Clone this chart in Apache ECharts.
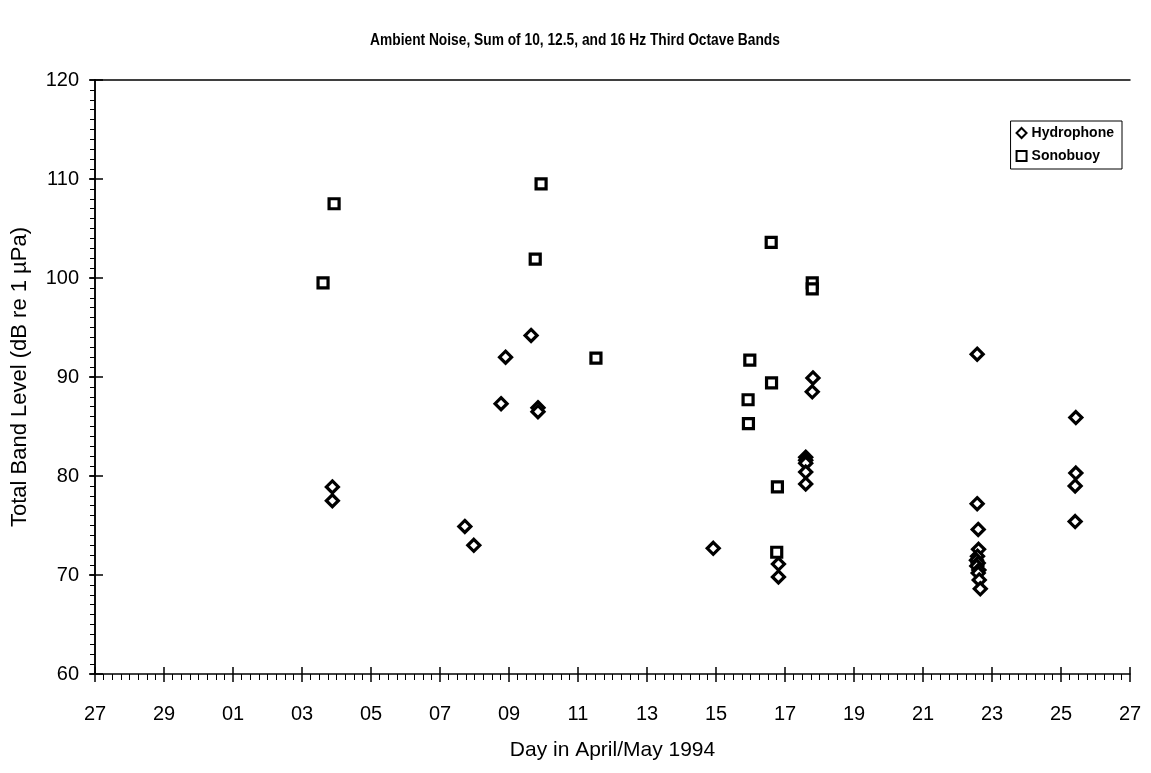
<!DOCTYPE html>
<html>
<head>
<meta charset="utf-8">
<script src="https://cdn.jsdelivr.net/npm/echarts@6/dist/echarts.min.js"></script>
<style>
  html, body { margin: 0; padding: 0; background: #fff; }
  #chart { width: 1151px; height: 773px; }
</style>
</head>
<body>
<div id="chart"></div>
<script>
// Day positions are counted in days from 27 April 1994, 00:00.
const tickLabels = ['27', '29', '01', '03', '05', '07', '09', '11', '13', '15', '17', '19', '21', '23', '25', '27'];

const hydroDay = [6.88, 6.88, 10.72, 10.98, 11.77, 11.90, 12.64, 12.84, 12.84,
  17.92, 19.81, 19.81, 20.81, 20.79, 20.60, 20.60, 20.60, 20.60, 20.60,
  25.57, 25.57, 25.60, 25.61, 25.58, 25.55, 25.60, 25.56, 25.62, 25.60, 25.63, 25.66,
  28.43, 28.43, 28.41, 28.41];
const hydroLevel = [78.9, 77.5, 74.9, 73.0, 87.3, 92.0, 94.2, 86.9, 86.5,
  72.7, 71.1, 69.8, 89.9, 88.5, 81.9, 81.6, 81.3, 80.4, 79.2,
  92.3, 77.2, 74.6, 72.6, 71.9, 71.5, 71.2, 70.9, 70.5, 70.2, 69.5, 68.6,
  85.9, 80.3, 79.0, 75.4];

const sonoDay = [6.61, 6.93, 12.93, 12.76, 14.52, 19.60, 20.79, 20.79, 18.98, 19.61, 18.93, 18.94, 19.78, 19.76];
const sonoLevel = [99.5, 107.5, 109.5, 101.9, 91.9, 103.6, 99.5, 98.9, 91.7, 89.4, 87.7, 85.3, 78.9, 72.3];

const chartTitle = 'Ambient Noise, Sum of 10, 12.5, and 16 Hz Third Octave Bands';

const pairs = (xs, ys) => xs.map((x, i) => [x, ys[i]]);

const FONT = "'Liberation Sans', Arial, Helvetica, sans-serif";
const NARROW = "'Liberation Sans Narrow', 'Liberation Sans', Arial, sans-serif";
const ink = '#000';

const chart = echarts.init(document.getElementById('chart'), null, { renderer: 'canvas' });

const xBase = { type: 'value', min: 0, max: 30, interval: 2, gridIndex: 0 };
const yBase = { type: 'value', min: 60, max: 120, interval: 10, gridIndex: 0 };

chart.setOption({
  backgroundColor: '#fff',
  animation: false,
  // condensed bold heading, squeezed horizontally
  graphic: [{
    type: 'text',
    x: 575, y: 41,
    scaleX: 0.86,
    style: {
      text: chartTitle,
      font: "bold 16px 'Liberation Sans', Arial, sans-serif",
      fill: ink,
      textAlign: 'center',
      textVerticalAlign: 'middle'
    }
  }],
  legend: {
    orient: 'vertical',
    right: 29, top: 121,
    padding: [5, 8, 6, 5],
    itemGap: 9,
    itemWidth: 10, itemHeight: 10,
    borderColor: ink, borderWidth: 1,
    backgroundColor: '#fff',
    textStyle: { fontFamily: NARROW, fontSize: 14, fontWeight: 'bold', color: ink },
    data: [
      { name: 'Hydrophone', icon: 'diamond' },
      { name: 'Sonobuoy', icon: 'rect' }
    ]
  },
  grid: { left: 95, right: 21, top: 80, bottom: 99, containLabel: false },
  xAxis: [
    Object.assign({}, xBase, {
      position: 'bottom',
      name: 'Day in April/May 1994',
      nameLocation: 'middle', nameGap: 66,
      nameTextStyle: { fontFamily: FONT, fontSize: 21, color: ink },
      axisLine: { show: true, lineStyle: { color: ink, width: 1.5 } },
      axisTick: { show: true, inside: false, length: 8, lineStyle: { color: ink, width: 1.5 } },
      minorTick: { show: true, splitNumber: 8, length: 6, lineStyle: { color: ink, width: 1 } },
      splitLine: { show: false },
      axisLabel: {
        margin: 30, fontFamily: FONT, fontSize: 20, color: ink,
        formatter: v => tickLabels[Math.round(v / 2)]
      }
    }),
    Object.assign({}, xBase, {
      position: 'bottom',
      axisLine: { show: false },
      axisTick: { show: true, inside: true, length: 7, lineStyle: { color: ink, width: 1.5 } },
      axisLabel: { show: false },
      splitLine: { show: false }
    }),
    Object.assign({}, xBase, {
      position: 'top',
      axisLine: { show: true, lineStyle: { color: ink, width: 1.5 } },
      axisTick: { show: false },
      axisLabel: { show: false },
      splitLine: { show: false }
    })
  ],
  yAxis: [
    Object.assign({}, yBase, {
      position: 'left',
      name: 'Total Band Level (dB re 1 µPa)',
      nameLocation: 'middle', nameGap: 64,
      nameTextStyle: { fontFamily: FONT, fontSize: 22, color: ink },
      axisLine: { show: true, lineStyle: { color: ink, width: 1.5 } },
      axisTick: { show: true, inside: false, length: 5, lineStyle: { color: ink, width: 1.5 } },
      minorTick: { show: true, splitNumber: 10, length: 5, lineStyle: { color: ink, width: 1 } },
      splitLine: { show: false },
      axisLabel: { margin: 16, fontFamily: FONT, fontSize: 20, color: ink }
    }),
    Object.assign({}, yBase, {
      position: 'left',
      axisLine: { show: false },
      axisTick: { show: true, inside: true, length: 8, lineStyle: { color: ink, width: 1.5 } },
      axisLabel: { show: false },
      splitLine: { show: false }
    }),
    Object.assign({}, yBase, {
      position: 'right',
      axisLine: { show: true, lineStyle: { color: ink, width: 1.5 } },
      axisTick: { show: true, inside: true, length: 6, lineStyle: { color: ink, width: 1.5 } },
      minorTick: { show: true, splitNumber: 10, length: 4, lineStyle: { color: ink, width: 1 } },
      axisLabel: { show: false },
      splitLine: { show: false }
    })
  ],
  series: [
    {
      name: 'Hydrophone',
      type: 'scatter',
      xAxisIndex: 0, yAxisIndex: 0,
      symbol: 'diamond', symbolSize: 12,
      itemStyle: { color: '#fff', borderColor: ink, borderWidth: 3.2, opacity: 1 },
      data: pairs(hydroDay, hydroLevel)
    },
    {
      name: 'Sonobuoy',
      type: 'scatter',
      xAxisIndex: 0, yAxisIndex: 0,
      symbol: 'rect', symbolSize: 10,
      itemStyle: { color: '#fff', borderColor: ink, borderWidth: 3.2, opacity: 1 },
      data: pairs(sonoDay, sonoLevel)
    }
  ]
});
</script>
</body>
</html>
